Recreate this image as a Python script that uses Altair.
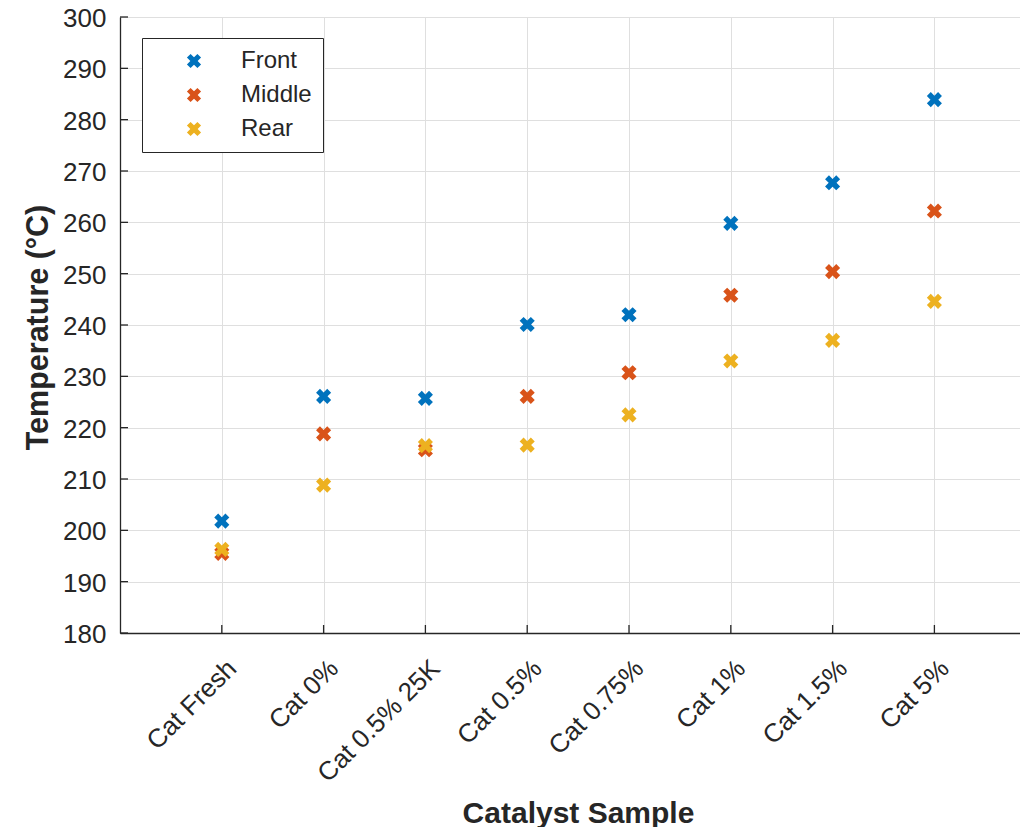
import json
import altair as alt
import pandas as pd

categories = ["Cat Fresh", "Cat 0%", "Cat 0.5% 25K", "Cat 0.5%",
              "Cat 0.75%", "Cat 1%", "Cat 1.5%", "Cat 5%"]
front = [201.8, 226.1, 225.7, 240.1, 242.0, 259.8, 267.7, 283.9]
middle = [195.5, 218.8, 215.7, 226.1, 230.7, 245.8, 250.4, 262.2]
rear = [196.3, 208.8, 216.5, 216.6, 222.5, 233.0, 237.0, 244.6]
series_names = ["Front", "Middle", "Rear"]
series_colors = ["#0072BD", "#D95319", "#EDB120"]
y_ticks = list(range(180, 301, 10))

rows = []
for name, vals in zip(series_names, [front, middle, rear]):
    for i, (c, v) in enumerate(zip(categories, vals)):
        rows.append({"idx": i + 1, "cat": c, "series": name, "temp": v, "order": len(rows)})
df = pd.DataFrame(rows)

xdf = pd.DataFrame({"idx": list(range(1, len(categories) + 1))})
ydf = pd.DataFrame({"t": y_ticks})

W, H = 900, 616
XMAX = W / 101.8

xpath = ("M-0.46,-0.955L0,-0.495L0.46,-0.955L0.955,-0.46L0.495,0L0.955,0.46"
         "L0.46,0.955L0,0.495L-0.46,0.955L-0.955,0.46L-0.495,0L-0.955,-0.46Z")

label_expr = json.dumps(categories) + "[datum.value - 1]"

xscale = alt.Scale(domain=[0, XMAX], nice=False, zero=False)
yscale = alt.Scale(domain=[180, 300], nice=False, zero=False)

FONT = "Liberation Sans"
TXT = "#262626"

points = alt.Chart(df).mark_point(
    shape=xpath, filled=True, size=250, opacity=1, strokeWidth=0
).encode(
    x=alt.X("idx:Q", scale=xscale,
            axis=alt.Axis(values=list(range(1, len(categories) + 1)),
                          labelExpr=label_expr, labelAngle=315,
                          labelAlign="right", labelBaseline="middle",
                          labelOffset=10, labelPadding=31,
                          labelFontSize=26, labelFont=FONT, labelColor=TXT,
                          ticks=False, grid=True, gridColor="#dfdfdf",
                          domainColor=TXT, domainWidth=1.3,
                          title="Catalyst Sample", titleFont=FONT,
                          titleFontSize=30, titleFontWeight="bold",
                          titleColor=TXT, titleX=458, titleY=189,
                          titleAlign="center", titleBaseline="alphabetic",
                          labelOverlap=False, labelFlush=False)),
    y=alt.Y("temp:Q", scale=yscale,
            axis=alt.Axis(values=y_ticks, labelFontSize=26, labelFont=FONT,
                          labelColor=TXT, labelPadding=14, labelOffset=1.5,
                          ticks=False,
                          grid=True, gridColor="#dfdfdf",
                          domainColor=TXT, domainWidth=1.3,
                          title="Temperature (°C)", titleFont=FONT,
                          titleFontSize=30.5, titleFontWeight="bold",
                          titleColor=TXT, titleAngle=270, titleX=-73,
                          titleY=H / 2 + 2, titleAlign="center",
                          titleBaseline="alphabetic",
                          labelOverlap=False, labelFlush=False)),
    color=alt.Color("series:N",
                    scale=alt.Scale(domain=series_names, range=series_colors),
                    legend=alt.Legend(title=None, orient="none",
                                      legendX=22, legendY=21,
                                      fillColor="white", strokeColor="#262626",
                                      padding=11,
                                      symbolType=xpath, symbolSize=220,
                                      symbolStrokeWidth=0, symbolOffset=29,
                                      labelOffset=35, labelFontSize=24,
                                      labelFont=FONT, labelColor=TXT,
                                      rowPadding=10, labelLimit=300)),
    order=alt.Order("order:Q"),
)

xticks = alt.Chart(xdf).mark_rule(color=TXT, strokeWidth=1.3).encode(
    x=alt.X("idx:Q", scale=xscale),
    y=alt.value(H), y2=alt.value(H - 8),
)
yticks = alt.Chart(ydf).mark_rule(color=TXT, strokeWidth=1.3).encode(
    y=alt.Y("t:Q", scale=yscale),
    x=alt.value(0), x2=alt.value(8),
)

chart = alt.layer(xticks, yticks, points).properties(
    width=W, height=H,
    autosize=alt.AutoSizeParams(type="none"),
    padding={"left": 112, "top": 9, "right": 0, "bottom": 194},
).configure_view(stroke=None).configure(background="white")

chart.save("out.html", embed_options={"renderer": "svg", "actions": False})
